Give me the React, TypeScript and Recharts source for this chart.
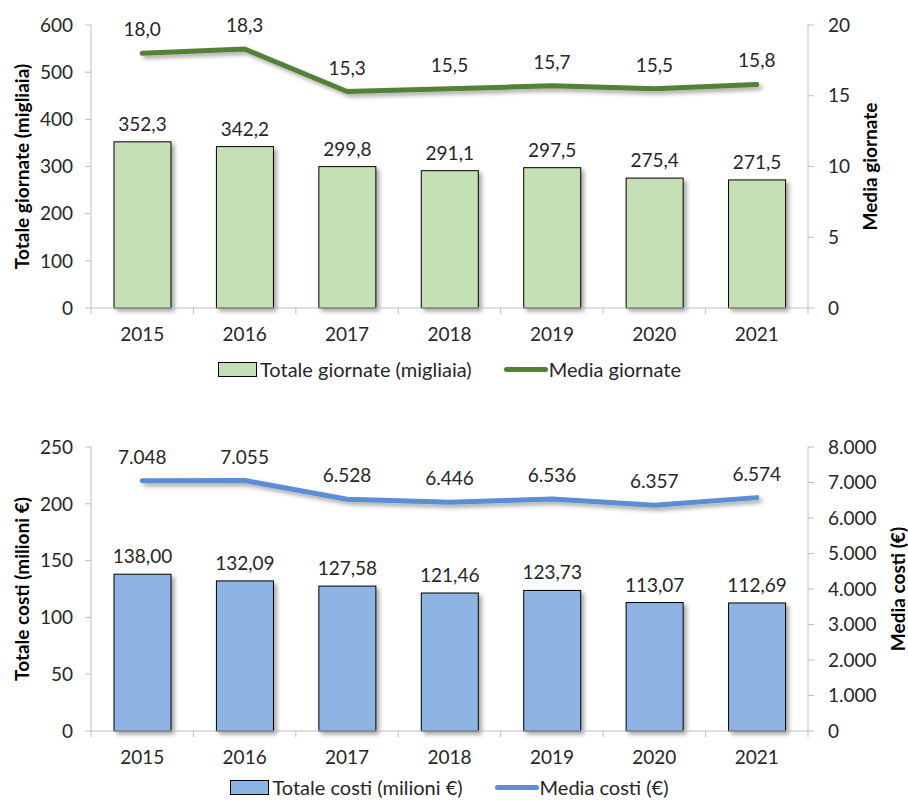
import React from 'react';
import { ComposedChart, Bar, Line, XAxis, YAxis, LabelList, Legend } from 'recharts';

const years = ['2015', '2016', '2017', '2018', '2019', '2020', '2021'];

// Giornate
const totaleGiornate = [352.3, 342.2, 299.8, 291.1, 297.5, 275.4, 271.5];
const mediaGiornate = [18.0, 18.3, 15.3, 15.5, 15.7, 15.5, 15.8];
const giornateTicks = [0, 100, 200, 300, 400, 500, 600];
const mediaGiornateTicks = [0, 5, 10, 15, 20];

// Costi
const totaleCosti = [138.0, 132.09, 127.58, 121.46, 123.73, 113.07, 112.69];
const mediaCosti = [7048, 7055, 6528, 6446, 6536, 6357, 6574];
const costiTicks = [0, 50, 100, 150, 200, 250];
const mediaCostiTicks = [0, 1000, 2000, 3000, 4000, 5000, 6000, 7000, 8000];

const FONT = 'Lato, "Open Sans", sans-serif';
const FS = 19;
const W = 908;
const LEFT_W = 91;
const RIGHT_W = 100;
const BAND = (W - LEFT_W - RIGHT_W) / years.length;
const AXIS_GREY = '#BFBFBF';
const TEXT = '#262626';

// italian number format: "." thousands, "," decimals
const fmt = (v: number, d: number) => {
  const [int, dec] = v.toFixed(d).split('.');
  const grouped = int.replace(/\B(?=(\d{3})+(?!\d))/g, '.');
  return dec ? `${grouped},${dec}` : grouped;
};

const YearTick = (props: any) => {
  const { x, y, payload, index } = props;
  const left = x - BAND / 2;
  const right = x + BAND / 2;
  return (
    <g>
      <line x1={left} x2={left} y1={y} y2={y + 6} stroke={AXIS_GREY} />
      {index === years.length - 1 && <line x1={right} x2={right} y1={y} y2={y + 6} stroke={AXIS_GREY} />}
      <text x={x} y={y + 25} textAnchor="middle" dominantBaseline="central" fontSize={FS} fill={TEXT} fontFamily={FONT}>
        {payload.value}
      </text>
    </g>
  );
};

const PanelLegend = ({ barName, barFill, lineName, lineColor, height }: any) => (
  <div
    style={{
      height,
      display: 'flex',
      alignItems: 'center',
      justifyContent: 'center',
      paddingLeft: LEFT_W,
      paddingRight: RIGHT_W,
      boxSizing: 'border-box',
      fontFamily: FONT,
      fontSize: 20,
      color: TEXT,
      whiteSpace: 'nowrap',
    }}
  >
    <span style={{ display: 'inline-block', width: 37, height: 13, background: barFill, border: '1px solid #000', marginRight: 3 }} />
    <span>{barName}</span>
    <span style={{ display: 'inline-block', width: 44, height: 5, background: lineColor, marginLeft: 32, marginRight: 1, borderRadius: 3 }} />
    <span>{lineName}</span>
  </div>
);

interface PanelProps {
  id: string;
  top: number;
  height: number;
  marginTop: number;
  legendHeight: number;
  totals: number[];
  means: number[];
  leftTicks: number[];
  rightTicks: number[];
  leftTitle: string;
  rightTitle: string;
  rightTitleDx: number;
  barName: string;
  lineName: string;
  barFill: string;
  lineColor: string;
  barDecimals: number;
  lineDecimals: number;
}

const Panel = (p: PanelProps) => {
  const data = years.map((year, i) => ({ year, totale: p.totals[i], media: p.means[i] }));
  const tickStyle = { fontSize: FS, fill: TEXT, fontFamily: FONT };
  const titleStyle = { fontSize: FS, fontWeight: 700, fill: '#000', fontFamily: FONT };
  const labelStyle = { fontSize: FS, fill: TEXT, fontFamily: FONT };

  return (
    <div style={{ position: 'absolute', left: 0, top: p.top }}>
      <ComposedChart width={W} height={p.height} data={data} margin={{ top: p.marginTop, right: 0, bottom: 0, left: 0 }}>
        <defs>
          <filter id={`${p.id}-shadow`} filterUnits="userSpaceOnUse" x={0} y={0} width={W} height={p.height}>
            <feDropShadow dx={3} dy={3} stdDeviation={2} floodColor="#000" floodOpacity={0.35} />
          </filter>
        </defs>
        <XAxis
          dataKey="year"
          height={40}
          tickLine={false}
          tickSize={0}
          tickMargin={0}
          axisLine={{ stroke: AXIS_GREY }}
          tick={<YearTick />}
          interval={0}
        />
        <YAxis
          yAxisId="left"
          width={LEFT_W}
          domain={[p.leftTicks[0], p.leftTicks[p.leftTicks.length - 1]]}
          ticks={p.leftTicks}
          interval={0}
          tickSize={6}
          tickMargin={12}
          axisLine={{ stroke: AXIS_GREY }}
          tickLine={{ stroke: AXIS_GREY }}
          tick={tickStyle}
          label={{ value: p.leftTitle, angle: -90, position: 'center', dx: -23, style: titleStyle }}
        />
        <YAxis
          yAxisId="right"
          orientation="right"
          width={RIGHT_W}
          domain={[p.rightTicks[0], p.rightTicks[p.rightTicks.length - 1]]}
          ticks={p.rightTicks}
          interval={0}
          tickFormatter={(v: number) => fmt(v, 0)}
          tickSize={6}
          tickMargin={14}
          axisLine={{ stroke: AXIS_GREY }}
          tickLine={{ stroke: AXIS_GREY }}
          tick={tickStyle}
          label={{ value: p.rightTitle, angle: -90, position: 'center', dx: p.rightTitleDx, style: titleStyle }}
        />
        <Legend
          verticalAlign="bottom"
          height={p.legendHeight}
          content={() => (
            <PanelLegend
              height={p.legendHeight}
              barName={p.barName}
              barFill={p.barFill}
              lineName={p.lineName}
              lineColor={p.lineColor}
            />
          )}
        />
        <Bar
          yAxisId="left"
          dataKey="totale"
          name={p.barName}
          barSize={57}
          isAnimationActive={false}
          shape={(s: any) => (
            <rect
              x={s.x}
              y={s.y}
              width={s.width}
              height={s.height}
              fill={p.barFill}
              stroke="#000"
              strokeWidth={1}
              filter={`url(#${p.id}-shadow)`}
            />
          )}
        >
          <LabelList dataKey="totale" position="top" offset={11} style={labelStyle} formatter={(v: any) => fmt(Number(v), p.barDecimals)} />
        </Bar>
        <Line
          yAxisId="right"
          dataKey="media"
          name={p.lineName}
          type="linear"
          stroke={p.lineColor}
          strokeWidth={5}
          strokeLinecap="round"
          strokeLinejoin="round"
          dot={false}
          activeDot={false}
          filter={`url(#${p.id}-shadow)`}
          isAnimationActive={false}
        >
          <LabelList dataKey="media" position="top" offset={17} style={labelStyle} formatter={(v: any) => fmt(Number(v), p.lineDecimals)} />
        </Line>
      </ComposedChart>
    </div>
  );
};

export default function App() {
  return (
    <div style={{ position: 'absolute', left: 0, top: 0, width: W, height: 800, overflow: 'hidden', background: '#fff' }}>
      <Panel
        id="giornate"
        top={0}
        height={390}
        marginTop={25}
        legendHeight={42}
        totals={totaleGiornate}
        means={mediaGiornate}
        leftTicks={giornateTicks}
        rightTicks={mediaGiornateTicks}
        leftTitle="Totale giornate (migliaia)"
        rightTitle="Media giornate"
        rightTitleDx={12}
        barName="Totale giornate (migliaia)"
        lineName="Media giornate"
        barFill="#C5E0B4"
        lineColor="#538135"
        barDecimals={1}
        lineDecimals={1}
      />
      <Panel
        id="costi"
        top={400}
        height={403}
        marginTop={47}
        legendHeight={32}
        totals={totaleCosti}
        means={mediaCosti}
        leftTicks={costiTicks}
        rightTicks={mediaCostiTicks}
        leftTitle="Totale costi (milioni €)"
        rightTitle="Media costi (€)"
        rightTitleDx={40}
        barName="Totale costi (milioni €)"
        lineName="Media costi (€)"
        barFill="#8EB4E3"
        lineColor="#5B8ED6"
        barDecimals={2}
        lineDecimals={0}
      />
    </div>
  );
}
